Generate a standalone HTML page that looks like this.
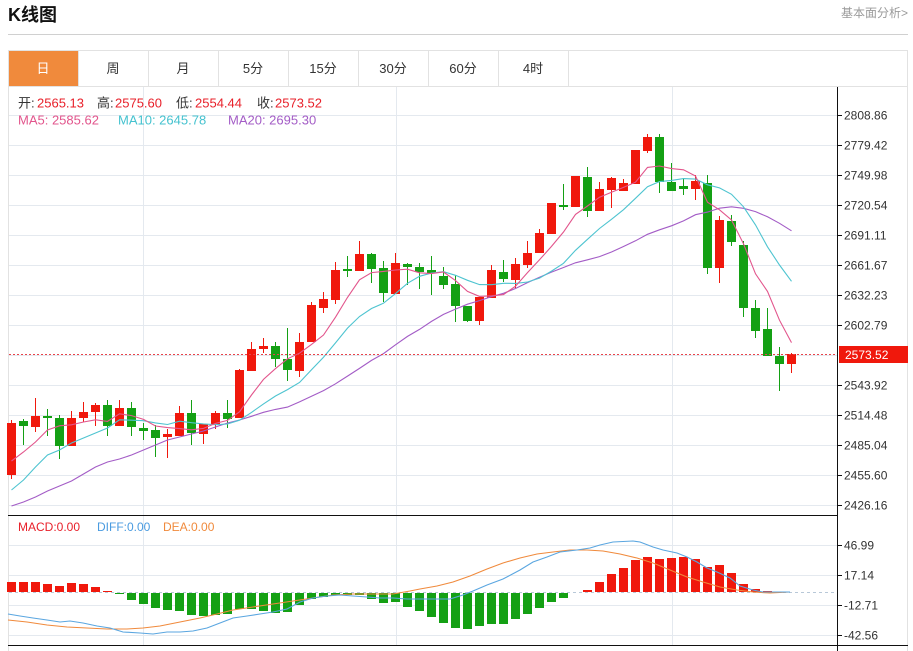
<!DOCTYPE html>
<html><head><meta charset="utf-8">
<style>
html,body{margin:0;padding:0;background:#fff;width:913px;height:651px;overflow:hidden;}
svg{display:block;font-family:"Liberation Sans","Noto Sans CJK SC",sans-serif;}
</style></head><body>
<svg id="s" width="913" height="651" viewBox="0 0 913 651" xmlns="http://www.w3.org/2000/svg">
<rect x="0" y="0" width="913" height="651" fill="#fff"/>
<!-- header -->
<text x="8" y="21" font-size="18" font-weight="bold" fill="#111">K线图</text>
<text x="908" y="17" font-size="12" fill="#9a9a9a" text-anchor="end">基本面分析&gt;</text>
<line x1="8" y1="34.5" x2="908" y2="34.5" stroke="#d0d0d0" stroke-width="1"/>
<!-- tabs -->
<rect x="8.5" y="50.5" width="899" height="36" fill="#fff" stroke="#e2e2e2"/>
<rect x="9" y="51" width="69" height="35" fill="#f08a3c"/>
<g stroke="#e2e2e2">
<line x1="78.5" y1="51" x2="78.5" y2="86"/><line x1="148.5" y1="51" x2="148.5" y2="86"/>
<line x1="218.5" y1="51" x2="218.5" y2="86"/><line x1="288.5" y1="51" x2="288.5" y2="86"/>
<line x1="358.5" y1="51" x2="358.5" y2="86"/><line x1="428.5" y1="51" x2="428.5" y2="86"/>
<line x1="498.5" y1="51" x2="498.5" y2="86"/><line x1="568.5" y1="51" x2="568.5" y2="86"/>
</g>
<g font-size="13" text-anchor="middle" fill="#333">
<text x="43" y="73" fill="#fff">日</text><text x="113" y="73">周</text><text x="183" y="73">月</text>
<text x="253" y="73">5分</text><text x="323" y="73">15分</text><text x="393" y="73">30分</text>
<text x="463" y="73">60分</text><text x="533" y="73">4时</text>
</g>
<!-- chart box borders -->
<line x1="8.5" y1="86" x2="8.5" y2="651" stroke="#e2e2e2"/>
<line x1="907.5" y1="86" x2="907.5" y2="651" stroke="#e2e2e2"/>
<!-- grid main -->
<g stroke="#e4e9ef" stroke-width="1">
<line x1="9" y1="115.5" x2="838" y2="115.5"/><line x1="9" y1="145.5" x2="838" y2="145.5"/>
<line x1="9" y1="175.5" x2="838" y2="175.5"/><line x1="9" y1="205.5" x2="838" y2="205.5"/>
<line x1="9" y1="235.5" x2="838" y2="235.5"/><line x1="9" y1="265.5" x2="838" y2="265.5"/>
<line x1="9" y1="295.5" x2="838" y2="295.5"/><line x1="9" y1="325.5" x2="838" y2="325.5"/>
<line x1="9" y1="355.5" x2="838" y2="355.5"/><line x1="9" y1="385.5" x2="838" y2="385.5"/>
<line x1="9" y1="415.5" x2="838" y2="415.5"/><line x1="9" y1="445.5" x2="838" y2="445.5"/>
<line x1="9" y1="475.5" x2="838" y2="475.5"/><line x1="9" y1="505.5" x2="838" y2="505.5"/>
<line x1="143.5" y1="87" x2="143.5" y2="515"/><line x1="396.5" y1="87" x2="396.5" y2="515"/><line x1="672.5" y1="87" x2="672.5" y2="515"/>
<line x1="9" y1="545.5" x2="838" y2="545.5"/><line x1="9" y1="575.5" x2="838" y2="575.5"/>
<line x1="9" y1="605.5" x2="838" y2="605.5"/><line x1="9" y1="635.5" x2="838" y2="635.5"/>
<line x1="143.5" y1="516" x2="143.5" y2="645"/><line x1="396.5" y1="516" x2="396.5" y2="645"/><line x1="672.5" y1="516" x2="672.5" y2="645"/>
</g>
<line x1="9" y1="592.5" x2="838" y2="592.5" stroke="#b8c8d8" stroke-dasharray="3,3"/>
<g id="macd"></g>
<g id="candles"></g>
<g id="lines"></g>
<!-- red dotted price line -->
<line x1="9" y1="354.5" x2="838" y2="354.5" stroke="#e8434a" stroke-dasharray="2,2"/>
<!-- axes -->
<line x1="8" y1="515.5" x2="838" y2="515.5" stroke="#111"/>
<line x1="8" y1="645.5" x2="908" y2="645.5" stroke="#111"/>
<line x1="837.5" y1="87" x2="837.5" y2="651" stroke="#111"/>
<g stroke="#111">
<line x1="838" y1="115.5" x2="842" y2="115.5"/><line x1="838" y1="145.5" x2="842" y2="145.5"/>
<line x1="838" y1="175.5" x2="842" y2="175.5"/><line x1="838" y1="205.5" x2="842" y2="205.5"/>
<line x1="838" y1="235.5" x2="842" y2="235.5"/><line x1="838" y1="265.5" x2="842" y2="265.5"/>
<line x1="838" y1="295.5" x2="842" y2="295.5"/><line x1="838" y1="325.5" x2="842" y2="325.5"/>
<line x1="838" y1="385.5" x2="842" y2="385.5"/><line x1="838" y1="415.5" x2="842" y2="415.5"/>
<line x1="838" y1="445.5" x2="842" y2="445.5"/><line x1="838" y1="475.5" x2="842" y2="475.5"/>
<line x1="838" y1="505.5" x2="842" y2="505.5"/>
<line x1="838" y1="545.5" x2="842" y2="545.5"/><line x1="838" y1="575.5" x2="842" y2="575.5"/>
<line x1="838" y1="605.5" x2="842" y2="605.5"/><line x1="838" y1="635.5" x2="842" y2="635.5"/>
</g>
<g font-size="12" fill="#333">
<text x="844" y="119.5">2808.86</text><text x="844" y="149.5">2779.42</text>
<text x="844" y="179.5">2749.98</text><text x="844" y="209.5">2720.54</text>
<text x="844" y="239.5">2691.11</text><text x="844" y="269.5">2661.67</text>
<text x="844" y="299.5">2632.23</text><text x="844" y="329.5">2602.79</text>
<text x="844" y="389.5">2543.92</text><text x="844" y="419.5">2514.48</text>
<text x="844" y="449.5">2485.04</text><text x="844" y="479.5">2455.60</text>
<text x="844" y="509.5">2426.16</text>
<text x="844" y="549.5">46.99</text><text x="844" y="579.5">17.14</text>
<text x="844" y="609.5">-12.71</text><text x="844" y="639.5">-42.56</text>
</g>
<rect x="839" y="346" width="69" height="17" fill="#f0180c"/>
<text x="845" y="359" font-size="12" fill="#fff">2573.52</text>
<!-- info -->
<g font-size="13">
<text y="107.5"><tspan x="18" fill="#333">开:</tspan><tspan x="37" fill="#e8202a">2565.13</tspan><tspan x="97" fill="#333">高:</tspan><tspan x="115" fill="#e8202a">2575.60</tspan><tspan x="176" fill="#333">低:</tspan><tspan x="195" fill="#e8202a">2554.44</tspan><tspan x="257" fill="#333">收:</tspan><tspan x="275" fill="#e8202a">2573.52</tspan></text>
<text y="124.5"><tspan x="18" fill="#e2558c">MA5: 2585.62</tspan><tspan x="118" fill="#44c2cf">MA10: 2645.78</tspan><tspan x="228" fill="#a35cc6">MA20: 2695.30</tspan></text>
</g>
<g font-size="12">
<text x="18" y="531" fill="#e8202a">MACD:0.00</text>
<text x="97" y="531" fill="#4a9be0">DIFF:0.00</text>
<text x="163" y="531" fill="#f08a3c">DEA:0.00</text>
</g>
</svg>
<script>
(function(){
var NS='http://www.w3.org/2000/svg';
function el(p,tag,a){var e=document.createElementNS(NS,tag);for(var k in a)e.setAttribute(k,a[k]);p.appendChild(e);return e;}
var RED='#f0180c',GRN='#14a014';
var C=[['r',423,475,420,479],['g',421,426,419,445],['r',416,427,398,432],['g',416,418,409,436],['g',418,446,415,459],['r',418,446,411,446],['r',412,418,402,422],['r',405,412,403,426],['g',405,426,400,436],['r',408,426,400,426],
['g',408,427,402,436],['g',428,431,423,440],['g',430,438,425,457],['r',434,437,429,458],['r',413,436,406,436],['g',413,433,400,445],['r',424,434,424,444],['r',413,424,411,429],['g',413,419,400,428],['r',370,418,369,418],
['r',349,371,342,371],['r',346,349,338,353],['g',346,359,342,367],['g',359,370,328,381],['r',342,371,333,377],['r',305,342,302,342],['r',299,308,292,313],['r',270,300,262,304],['g',269,271,256,277],['r',254,271,241,271],
['g',254,269,253,283],['g',268,293,261,302],['r',263,294,253,294],['g',264,267,263,285],['g',267,272,263,289],['g',270,273,256,295],['g',276,285,267,289],['g',284,306,275,322],['g',306,321,306,322],['r',297,321,297,325],
['r',270,298,265,298],['g',272,279,260,282],['r',264,280,258,288],['r',253,265,241,268],['r',233,253,229,253],['r',203,234,203,234],['g',205,207,184,210],['r',176,207,176,207],['g',177,211,167,217],['r',189,211,182,211],
['r',178,190,177,208],['r',183,191,179,191],['r',150,184,150,184],['r',137,151,134,153],['g',137,182,134,193],['g',182,191,163,191],['g',186,189,178,195],['r',181,189,175,200],['g',183,268,175,274],['r',220,268,216,283],
['g',221,242,215,246],['g',245,308,241,317],['g',308,331,300,338],['g',329,356,308,356],['g',356,364,347,391],['r',354,364,353,373]];
var cg=document.getElementById('candles');
var closes=[];
for(var i=0;i<C.length;i++){var c=C[i],col=c[0]=='r'?RED:GRN;var x0=7+12*i;
 closes.push(c[0]=='r'?c[1]:c[2]);
 el(cg,'rect',{x:x0+4,y:c[3],width:1,height:Math.max(1,c[4]-c[3]),fill:col});
 el(cg,'rect',{x:x0,y:c[1],width:9,height:Math.max(1,c[2]-c[1]),fill:col});}
function X(i){return 11.5+12*i;}
function ma(n,pre){var pts=[];for(var i=0;i<closes.length;i++){var y;if(i<n-1){y=pre[i];}else{var s=0;for(var j=i-n+1;j<=i;j++)s+=closes[j];y=s/n;}pts.push(X(i).toFixed(1)+','+y.toFixed(1));}return pts.join(' ');}
var lg=document.getElementById('lines');
el(lg,'polyline',{points:ma(20,[506,502,497,491,486,481,474,467,462,459,455,450,445,440,437,434,431,427,423]),fill:'none',stroke:'#a35cc6','stroke-width':1.1});
el(lg,'polyline',{points:ma(10,[490,480,467,455,450,443,438,433,428]),fill:'none',stroke:'#4ec4d0','stroke-width':1.1});
el(lg,'polyline',{points:ma(5,[461,452,442,430]),fill:'none',stroke:'#e2558c','stroke-width':1.1});
// MACD bars
var B=[582,582,582,584,586,583,584,587,591,593,599,603,607,609,610,614,615,614,613,608,608,610,612,611,604,598,596,594,594,594,598,602,601,606,610,616,622,627,628,625,623,623,618,613,607,601,597,592,590,582,574,568,560,557,559,558,557,559,567,565,573,584,589,591,592,592];
var mg=document.getElementById('macd');
for(var i=0;i<B.length;i++){var v=B[i];var x0=7+12*i;
 if(v<592){el(mg,'rect',{x:x0,y:v,width:9,height:592-v,fill:RED});}
 else if(v>592){el(mg,'rect',{x:x0,y:593,width:9,height:v-592,fill:GRN});}}
var DIFF=[[8,614],[20,616],[33,618],[47,620],[60,622],[70,621],[83,623],[97,626],[110,628],[123,632],[140,633],[153,634],[167,632],[180,632],[193,631],[207,628],[220,623],[233,618],[247,616],[260,614],[273,612],[287,609],[300,602],[313,598],[327,596],[340,595],[353,596],[367,597],[380,598],[393,598],[407,599],[420,599],[433,599],[450,599],[463,595],[473,591],[487,585],[503,579],[520,570],[533,562],[547,557],[560,552],[577,550],[590,548],[600,545],[613,542],[633,541],[640,542],[653,547],[663,550],[677,553],[687,557],[697,562],[707,568],[717,572],[730,578],[740,586],[753,590],[763,592],[790,592]];
var DEA=[[8,620],[27,622],[47,625],[67,627],[87,628],[107,629],[127,629],[143,628],[160,626],[180,622],[200,618],[217,614],[233,610],[253,607],[273,604],[293,601],[313,598],[333,595],[353,594],[373,594],[393,594],[410,591],[420,589],[437,586],[453,582],[470,576],[487,569],[503,563],[520,558],[537,554],[553,552],[570,550],[587,550],[603,551],[620,554],[637,558],[653,563],[670,570],[687,577],[703,582],[720,587],[737,590],[753,592],[770,593],[790,592]];
function pts(a){return a.map(function(p){return p[0]+','+p[1];}).join(' ');}
el(mg,'polyline',{points:pts(DEA),fill:'none',stroke:'#f08a3c','stroke-width':1.1});
el(mg,'polyline',{points:pts(DIFF),fill:'none',stroke:'#5aa6e0','stroke-width':1.1});
})();
</script>
</body></html>
